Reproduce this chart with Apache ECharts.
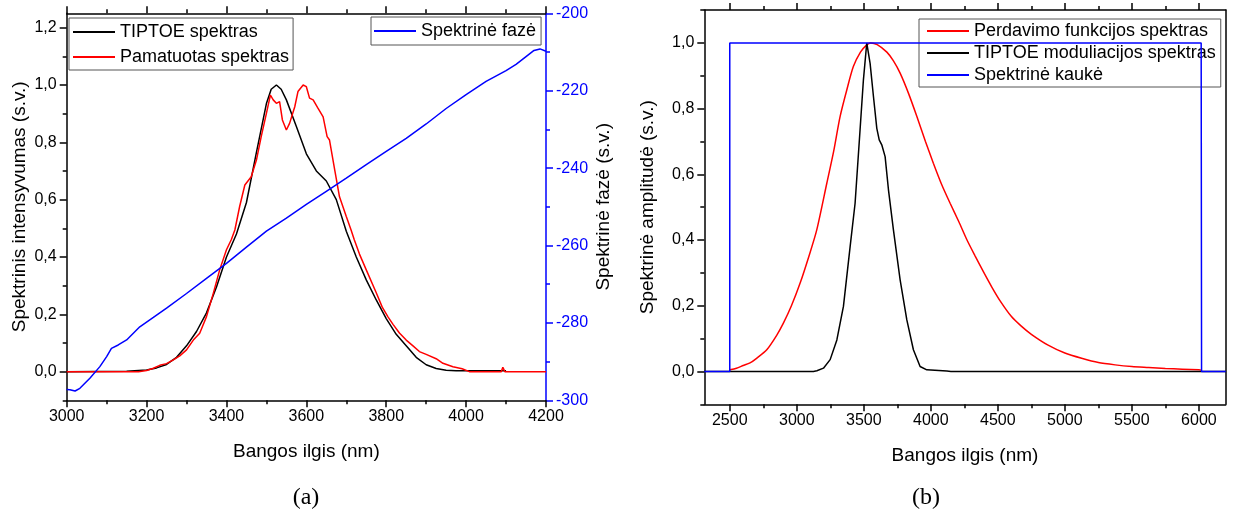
<!DOCTYPE html>
<html>
<head>
<meta charset="utf-8">
<script src="https://cdn.jsdelivr.net/npm/echarts@6/dist/echarts.min.js"></script>
<style>
html,body{margin:0;padding:0;background:#fff;}
#chart{width:1233px;height:517px;}
</style>
</head>
<body>
<div id="chart"></div>
<script>
// ---------- Panel (a) data ----------
const tiptoeA = [[3000,0],[3150,0.001],[3200,0.006],[3225,0.013],[3250,0.025],[3275,0.05],[3300,0.09],[3325,0.14],[3350,0.205],[3375,0.295],[3400,0.40],[3425,0.48],[3450,0.59],[3475,0.765],[3500,0.935],[3512,0.985],[3525,1.0],[3537,0.985],[3550,0.948],[3575,0.855],[3600,0.76],[3625,0.70],[3650,0.665],[3675,0.60],[3700,0.49],[3725,0.40],[3750,0.32],[3775,0.25],[3800,0.185],[3825,0.13],[3850,0.09],[3875,0.05],[3900,0.024],[3925,0.011],[3950,0.005],[3975,0.003],[4000,0.003],[4100,0.003]];
const measuredA = [[3000,0],[3008,0],[3010,0.006],[3013,0],[3108,0],[3110,0.004],[3113,0],[3180,0],[3200,0.004],[3217,0.012],[3233,0.022],[3250,0.028],[3267,0.041],[3283,0.055],[3300,0.076],[3317,0.11],[3333,0.134],[3350,0.192],[3367,0.273],[3383,0.355],[3400,0.425],[3412,0.46],[3421,0.494],[3433,0.576],[3446,0.651],[3462,0.68],[3475,0.738],[3487,0.82],[3500,0.901],[3510,0.965],[3517,0.948],[3525,0.936],[3533,0.942],[3540,0.878],[3550,0.843],[3558,0.866],[3571,0.924],[3579,0.977],[3592,1.0],[3600,0.994],[3608,0.954],[3617,0.948],[3629,0.919],[3642,0.889],[3652,0.82],[3658,0.808],[3671,0.704],[3683,0.61],[3700,0.541],[3712,0.494],[3720,0.46],[3733,0.41],[3750,0.355],[3775,0.275],[3790,0.225],[3804,0.192],[3817,0.165],[3833,0.135],[3850,0.11],[3867,0.09],[3883,0.07],[3900,0.06],[3925,0.045],[3942,0.029],[3967,0.017],[3990,0.01],[4008,0],[4088,0],[4092,0.015],[4097,0],[4200,0]];
const phaseA = [[3000,-297.2],[3008,-297.3],[3021,-297.6],[3033,-296.9],[3058,-294.3],[3083,-291.3],[3100,-288.7],[3112,-286.6],[3129,-285.7],[3150,-284.4],[3183,-281.0],[3217,-278.6],[3250,-276.2],[3300,-272.4],[3350,-268.5],[3400,-264.6],[3450,-260.4],[3500,-256.3],[3550,-252.9],[3600,-249.4],[3650,-246.0],[3700,-242.6],[3750,-239.1],[3800,-235.7],[3850,-232.3],[3900,-228.6],[3950,-224.6],[4000,-221.0],[4050,-217.6],[4100,-214.8],[4125,-213.2],[4150,-211.2],[4170,-209.6],[4185,-209.2],[4200,-209.8]];

// ---------- Panel (b) data ----------
const transferB = [[2500,0.005],[2550,0.01],[2600,0.018],[2651,0.026],[2700,0.04],[2776,0.066],[2850,0.11],[2900,0.147],[2960,0.2],[3025,0.269],[3090,0.35],[3149,0.431],[3224,0.573],[3275,0.67],[3323,0.776],[3375,0.86],[3422,0.928],[3475,0.972],[3522,0.994],[3550,1.0],[3600,0.995],[3672,0.972],[3720,0.946],[3771,0.908],[3835,0.845],[3896,0.776],[3960,0.7],[4019,0.634],[4080,0.57],[4144,0.512],[4210,0.455],[4269,0.401],[4330,0.352],[4393,0.303],[4455,0.257],[4517,0.215],[4600,0.168],[4675,0.138],[4750,0.113],[4875,0.08],[5000,0.056],[5125,0.04],[5250,0.027],[5375,0.02],[5500,0.015],[5625,0.012],[5750,0.009],[5875,0.007],[6000,0.005],[6017,0.004]];
const tiptoeB = [[2310,0],[3124,0],[3150,0.002],[3199,0.01],[3249,0.036],[3299,0.096],[3348,0.198],[3398,0.38],[3435,0.512],[3472,0.735],[3497,0.887],[3522,1.0],[3547,0.938],[3572,0.837],[3597,0.74],[3615,0.705],[3634,0.69],[3659,0.654],[3684,0.553],[3721,0.431],[3771,0.279],[3821,0.157],[3870,0.066],[3920,0.015],[3970,0.005],[4120,0.001],[4150,0],[6200,0]];
const maskB = [[2310,0],[2500,0],[2500,1],[6017,1],[6020,0],[6200,0]];

// ---------- Tick values ----------
const yLabelsA = [0,0.2,0.4,0.6,0.8,1.0,1.2];
const yMinorA = [-0.1,0.1,0.3,0.5,0.7,0.9,1.1];
const xLabelsB = [2500,3000,3500,4000,4500,5000,5500,6000];
const xMinorB = [2750,3250,3750,4250,4750,5250,5750];
const yLabelsB = [0,0.2,0.4,0.6,0.8,1.0];
const yMinorB = [-0.1,0.1,0.3,0.5,0.7,0.9,1.1];

const FONT = 'Liberation Sans';
const comma = v => (Math.round(v*10)/10).toFixed(1).replace('.', ',');
const plain = v => String(Math.round(v));
const lineSty = {color:'#000', width:1.5};
const labelSty = {fontFamily:FONT, fontSize:16, color:'#000'};
const nameSty = {fontFamily:FONT, fontSize:19, color:'#000'};

function mainX(grid, pos, min, max, extra){
  return Object.assign({
    type:'value', gridIndex:grid, position:pos, min:min, max:max,
    axisLine:{show:true, onZero:false, lineStyle:lineSty},
    axisTick:{show:true, inside:false, length:7, lineStyle:{color:'#000', width:1.5}},
    axisLabel:{show:false},
    splitLine:{show:false}
  }, extra);
}
function minorAxis(grid, pos, min, max, vals){
  return {
    type:'value', gridIndex:grid, position:pos, min:min, max:max,
    axisLine:{show:false, onZero:false},
    axisTick:{show:true, inside:false, length:4, customValues:vals, lineStyle:{color:'#000', width:1.5}},
    axisLabel:{show:false}, splitLine:{show:false}
  };
}

const xAxis = [
  mainX(0,'bottom',3000,4200,{interval:200,
    minorTick:{show:true, splitNumber:2, length:4, lineStyle:{color:'#000', width:1.5}},
    axisLabel:Object.assign({show:true, margin:8, formatter:plain}, labelSty),
    name:'Bangos ilgis (nm)', nameLocation:'middle', nameGap:42, nameTextStyle:nameSty}),
  mainX(0,'top',3000,4200,{interval:200,
    minorTick:{show:true, splitNumber:2, length:4, lineStyle:{color:'#000', width:1.5}}}),
  mainX(1,'bottom',2310,6200,{
    axisTick:{show:true, inside:false, length:7, customValues:xLabelsB, lineStyle:{color:'#000', width:1.5}},
    axisLabel:Object.assign({show:true, margin:8, customValues:xLabelsB, formatter:plain}, labelSty),
    name:'Bangos ilgis (nm)', nameLocation:'middle', nameGap:42, nameTextStyle:nameSty}),
  minorAxis(1,'bottom',2310,6200,xMinorB),
  mainX(1,'top',2310,6200,{
    axisTick:{show:true, inside:false, length:7, customValues:xLabelsB, lineStyle:{color:'#000', width:1.5}}}),
  minorAxis(1,'top',2310,6200,xMinorB)
];

const yAxis = [
  {type:'value', gridIndex:0, position:'left', min:-0.1, max:1.25,
    axisLine:{show:true, onZero:false, lineStyle:lineSty},
    axisTick:{show:true, inside:false, length:7, customValues:yLabelsA, lineStyle:{color:'#000', width:1.5}},
    axisLabel:Object.assign({show:true, margin:10, customValues:yLabelsA, formatter:comma}, labelSty),
    splitLine:{show:false},
    name:'Spektrinis intensyvumas (s.v.)', nameLocation:'middle', nameGap:37, nameTextStyle:nameSty},
  minorAxis(0,'left',-0.1,1.25,yMinorA),
  {type:'value', gridIndex:0, position:'right', min:-300, max:-200, interval:20,
    axisLine:{show:true, onZero:false, lineStyle:{color:'#0000ff', width:1.5}},
    axisTick:{show:true, inside:false, length:7, lineStyle:{color:'#0000ff', width:1.5}},
    minorTick:{show:true, splitNumber:2, length:4, lineStyle:{color:'#0000ff', width:1.5}},
    axisLabel:{show:true, margin:10, fontFamily:FONT, fontSize:16, color:'#0000ff'},
    splitLine:{show:false},
    name:'Spektrinė fazė (s.v.)', nameLocation:'middle', nameGap:48, nameTextStyle:nameSty},
  {type:'value', gridIndex:1, position:'left', min:-0.1, max:1.1,
    axisLine:{show:true, onZero:false, lineStyle:lineSty},
    axisTick:{show:true, inside:false, length:7, customValues:yLabelsB, lineStyle:{color:'#000', width:1.5}},
    axisLabel:Object.assign({show:true, margin:10, customValues:yLabelsB, formatter:comma}, labelSty),
    splitLine:{show:false},
    name:'Spektrinė amplitudė (s.v.)', nameLocation:'middle', nameGap:47, nameTextStyle:nameSty},
  minorAxis(1,'left',-0.1,1.1,yMinorB),
  {type:'value', gridIndex:1, position:'right', min:-0.1, max:1.1,
    axisLine:{show:true, onZero:false, lineStyle:lineSty},
    axisTick:{show:false}, axisLabel:{show:false}, splitLine:{show:false}}
];

function ser(name, data, color, xi, yi, z, smooth){
  return {type:'line', name:name, data:data, xAxisIndex:xi, yAxisIndex:yi,
    color:color, showSymbol:false, symbol:'none', smooth:smooth || false, z:z,
    lineStyle:{color:color, width:1.5}, emphasis:{disabled:true}, animation:false};
}

const legendBase = {
  orient:'vertical', icon:'rect', itemWidth:42, itemHeight:2, selectedMode:false,
  backgroundColor:'#fff', borderColor:'#555', borderWidth:1, borderRadius:0,
  textStyle:{fontFamily:FONT, fontSize:18, color:'#000', lineHeight:20}
};

const option = {
  animation:false,
  backgroundColor:'#fff',
  grid:[
    {left:66.7, top:13.3, width:479.3, height:387, containLabel:false, outerBoundsMode:'none'},
    {left:704.3, top:10.1, width:521.4, height:394.2, containLabel:false, outerBoundsMode:'none'}
  ],
  xAxis:xAxis,
  yAxis:yAxis,
  legend:[
    Object.assign({}, legendBase, {left:69, top:18, padding:[4,4,3,4], itemGap:5,
      data:['TIPTOE spektras','Pamatuotas spektras']}),
    Object.assign({}, legendBase, {left:371, top:17, padding:[4,5,4,3], itemGap:5,
      data:['Spektrinė fazė']}),
    Object.assign({}, legendBase, {left:919, top:19, padding:[2,5,2,8], itemGap:2,
      data:['Perdavimo funkcijos spektras','TIPTOE moduliacijos spektras','Spektrinė kaukė']})
  ],
  series:[
    ser('TIPTOE spektras', tiptoeA, '#000000', 0, 0, 2, false),
    ser('Pamatuotas spektras', measuredA, '#ff0000', 0, 0, 3, false),
    ser('Spektrinė fazė', phaseA, '#0000ff', 0, 2, 4, false),
    ser('Perdavimo funkcijos spektras', transferB, '#ff0000', 2, 3, 2, 0.25),
    ser('TIPTOE moduliacijos spektras', tiptoeB, '#000000', 2, 3, 3, false),
    ser('Spektrinė kaukė', maskB, '#0000ff', 2, 3, 4, false)
  ],
  graphic:[
    {type:'text', x:306, y:498, style:{text:'(a)', fontFamily:'Liberation Serif', fontSize:24, fill:'#000', align:'center', verticalAlign:'middle'}},
    {type:'text', x:926, y:498, style:{text:'(b)', fontFamily:'Liberation Serif', fontSize:24, fill:'#000', align:'center', verticalAlign:'middle'}}
  ]
};

const chart = echarts.init(document.getElementById('chart'), null, {renderer:'canvas'});
chart.setOption(option);
</script>
</body>
</html>
